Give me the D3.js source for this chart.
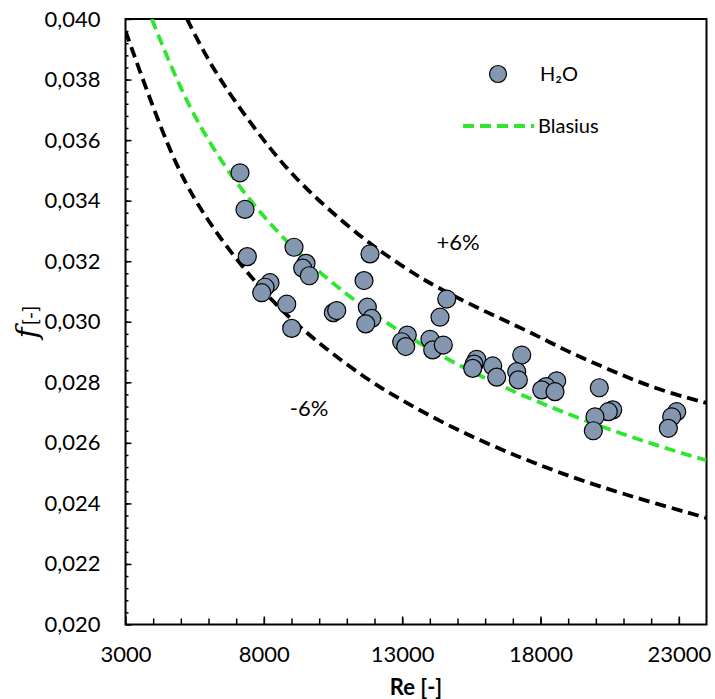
<!DOCTYPE html>
<html>
<head>
<meta charset="utf-8">
<script src="https://cdn.jsdelivr.net/npm/d3@7"></script>
<style>
  body { margin: 0; background: #fff; }
</style>
</head>
<body>
<div id="chart-area"></div>
<script>
// measured points (H2O)
const reData = [7139, 7319, 7402, 8223, 8042, 7923, 8827, 9007, 9090, 9524, 9405, 9643,
  10511, 10634, 11837, 11621, 11740, 11899, 11682, 13186, 12983, 13128, 14610, 14368,
  14006, 14104, 14487, 15694, 15597, 15550, 16272, 16417, 17321, 17140, 17198, 18586,
  18199, 18044, 18524, 20125, 20610, 20451, 19970, 19909, 22923, 22742, 22620];
const fData = [0.03492, 0.03371, 0.03215, 0.03129, 0.03114, 0.03096, 0.03058, 0.02978, 0.03246, 0.03193, 0.03177, 0.03152,
  0.03030, 0.03037, 0.03224, 0.03136, 0.03048, 0.03011, 0.02993, 0.02956, 0.02934, 0.02918, 0.03075, 0.03015,
  0.02942, 0.02907, 0.02923, 0.02876, 0.02860, 0.02846, 0.02854, 0.02817, 0.02890, 0.02835, 0.02808, 0.02805,
  0.02786, 0.02775, 0.02769, 0.02782, 0.02709, 0.02703, 0.02686, 0.02640, 0.02703, 0.02686, 0.02648];

// Blasius curve
const blasiusRe = [3950, 5000, 6000, 7000, 8000, 9000, 10000, 11000, 12000, 13000, 14000,
  15000, 16000, 17000, 18000, 19000, 20000, 21000, 22000, 23000, 24000];
const blasiusF = [0.0400, 0.03763, 0.03595, 0.03459, 0.03346, 0.03248, 0.03164, 0.03090, 0.03023, 0.02963, 0.02909,
  0.02859, 0.02813, 0.02771, 0.02732, 0.02695, 0.02661, 0.02628, 0.02598, 0.02569, 0.02542];

// +6% band
const upperRe = [5223, 6000, 7000, 8284, 9188, 10272, 11476, 12441, 13525, 14125, 15333, 16536, 17740, 18947, 20151, 21354, 22561, 24000];
const upperF = [0.0400, 0.0386, 0.0372, 0.03564, 0.03470, 0.03376, 0.03283, 0.03218, 0.03153, 0.03121, 0.03063, 0.03011, 0.02961, 0.02903, 0.02855, 0.02808, 0.02767, 0.02732];

// -6% band
const lowerRe = [3000, 4608, 5693, 7019, 8342, 9188, 10149, 11718, 12922, 14367, 15813, 17259, 18586, 20151, 21957, 24000];
const lowerF = [0.0396, 0.03551, 0.03369, 0.03202, 0.03064, 0.02992, 0.02917, 0.02810, 0.02744, 0.02671, 0.02608, 0.02552, 0.02505, 0.02455, 0.02405, 0.02352];

const xTicks = [3000, 8000, 13000, 18000, 23000];
const yTicks = [0.020, 0.022, 0.024, 0.026, 0.028, 0.030, 0.032, 0.034, 0.036, 0.038, 0.040];

const svgWidth = 715, svgHeight = 699;
const plotLeft = 125.5, plotRight = 706.5, plotTop = 19, plotBottom = 624.5;
const font = 'Lato, "Open Sans", sans-serif';

const svg = d3.select("#chart-area")
  .append("svg")
    .attr("width", svgWidth)
    .attr("height", svgHeight);

const x = d3.scaleLinear().domain([3000, 24000]).range([plotLeft, plotRight]);
const y = d3.scaleLinear().domain([0.020, 0.040]).range([plotBottom, plotTop]);

const locale = d3.formatLocale({decimal: ",", thousands: "", grouping: [3], currency: ["", ""]});
const fmtY = locale.format(".3f");

// clip for curves
svg.append("clipPath").attr("id", "clip")
  .append("rect")
    .attr("x", plotLeft).attr("y", plotTop)
    .attr("width", plotRight - plotLeft).attr("height", plotBottom - plotTop);

// inner ticks
svg.append("g")
    .attr("transform", `translate(${plotLeft},0)`)
    .call(d3.axisRight(y).tickValues(d3.range(0.0204, 0.04, 0.0004)).tickSize(3).tickFormat(""))
    .call(g => g.select(".domain").remove())
    .call(g => g.selectAll("line").attr("stroke-width", 1.5));
svg.append("g")
    .attr("transform", `translate(${plotLeft},0)`)
    .call(d3.axisRight(y).tickValues(yTicks).tickSize(6).tickFormat(""))
    .call(g => g.select(".domain").remove())
    .call(g => g.selectAll("line").attr("stroke-width", 1.5));
svg.append("g")
    .attr("transform", `translate(0,${plotBottom})`)
    .call(d3.axisTop(x).tickValues(d3.range(4000, 24000, 1000)).tickSize(6).tickFormat(""))
    .call(g => g.select(".domain").remove())
    .call(g => g.selectAll("line").attr("stroke-width", 1.5));
svg.append("g")
    .attr("transform", `translate(0,${plotBottom})`)
    .call(d3.axisTop(x).tickValues(xTicks).tickSize(8).tickFormat(""))
    .call(g => g.select(".domain").remove())
    .call(g => g.selectAll("line").attr("stroke-width", 1.5));

// tick labels
svg.append("g")
    .attr("transform", `translate(${plotLeft},0)`)
    .call(d3.axisLeft(y).tickValues(yTicks).tickSize(0).tickPadding(25).tickFormat(fmtY))
    .call(g => g.select(".domain").remove())
    .call(g => g.selectAll("text").attr("font-family", font).attr("font-size", 22).attr("fill", "#000"));
svg.append("g")
    .attr("transform", `translate(0,${plotBottom})`)
    .call(d3.axisBottom(x).tickValues(xTicks).tickSize(0).tickPadding(22).tickFormat(d3.format("d")))
    .call(g => g.select(".domain").remove())
    .call(g => g.selectAll("text").attr("font-family", font).attr("font-size", 22).attr("fill", "#000"));

// frame
svg.append("rect")
    .attr("x", plotLeft).attr("y", plotTop)
    .attr("width", plotRight - plotLeft).attr("height", plotBottom - plotTop)
    .attr("fill", "none")
    .attr("stroke", "#000")
    .attr("stroke-width", 2);

const line = d3.line().x(d => x(d[0])).y(d => y(d[1])).curve(d3.curveBasis);

const curves = svg.append("g").attr("clip-path", "url(#clip)");
curves.append("path")
    .datum(d3.zip(upperRe, upperF))
    .attr("d", line)
    .attr("fill", "none").attr("stroke", "#000").attr("stroke-width", 3.8)
    .attr("stroke-dasharray", "11,6");
curves.append("path")
    .datum(d3.zip(lowerRe, lowerF))
    .attr("d", line)
    .attr("fill", "none").attr("stroke", "#000").attr("stroke-width", 3.8)
    .attr("stroke-dasharray", "11,6");
curves.append("path")
    .datum(d3.zip(blasiusRe, blasiusF))
    .attr("d", line)
    .attr("fill", "none").attr("stroke", "#2ee62e").attr("stroke-width", 3.8)
    .attr("stroke-dasharray", "11,6");

// points
svg.append("g")
  .selectAll("circle")
  .data(d3.zip(reData, fData))
  .enter()
  .append("circle")
    .attr("cx", d => x(d[0]))
    .attr("cy", d => y(d[1]))
    .attr("r", 9)
    .attr("fill", "#8497b0")
    .attr("stroke", "#000")
    .attr("stroke-width", 1.2);

// band labels
svg.append("text").text("+6%")
    .attr("x", 458).attr("y", 250)
    .attr("text-anchor", "middle")
    .attr("font-family", font).attr("font-size", 22);
svg.append("text").text("-6%")
    .attr("x", 309).attr("y", 416)
    .attr("text-anchor", "middle")
    .attr("font-family", font).attr("font-size", 22);

// legend
svg.append("circle")
    .attr("cx", 498).attr("cy", 74).attr("r", 8.5)
    .attr("fill", "#8497b0").attr("stroke", "#000").attr("stroke-width", 1.2);
svg.append("text").text("H₂O")
    .attr("x", 540).attr("y", 81)
    .attr("font-family", font).attr("font-size", 20);
svg.append("line")
    .attr("x1", 463).attr("x2", 534).attr("y1", 126).attr("y2", 126)
    .attr("stroke", "#2ee62e").attr("stroke-width", 3.8)
    .attr("stroke-dasharray", "11,6");
svg.append("text").text("Blasius")
    .attr("x", 538).attr("y", 133)
    .attr("font-family", font).attr("font-size", 20);

// axis titles
svg.append("text").text("Re [-]")
    .attr("x", 416).attr("y", 695)
    .attr("text-anchor", "middle")
    .attr("font-family", font).attr("font-size", 22).attr("font-weight", 700);

const yTitle = svg.append("text")
    .attr("transform", "translate(37,322) rotate(-90)")
    .attr("text-anchor", "middle");
yTitle.append("tspan").text("f")
    .attr("font-family", '"DejaVu Serif", serif').attr("font-style", "italic").attr("font-size", 30);
yTitle.append("tspan").text("[-]")
    .attr("dx", 2)
    .attr("font-family", font).attr("font-size", 20);
</script>
</body>
</html>
